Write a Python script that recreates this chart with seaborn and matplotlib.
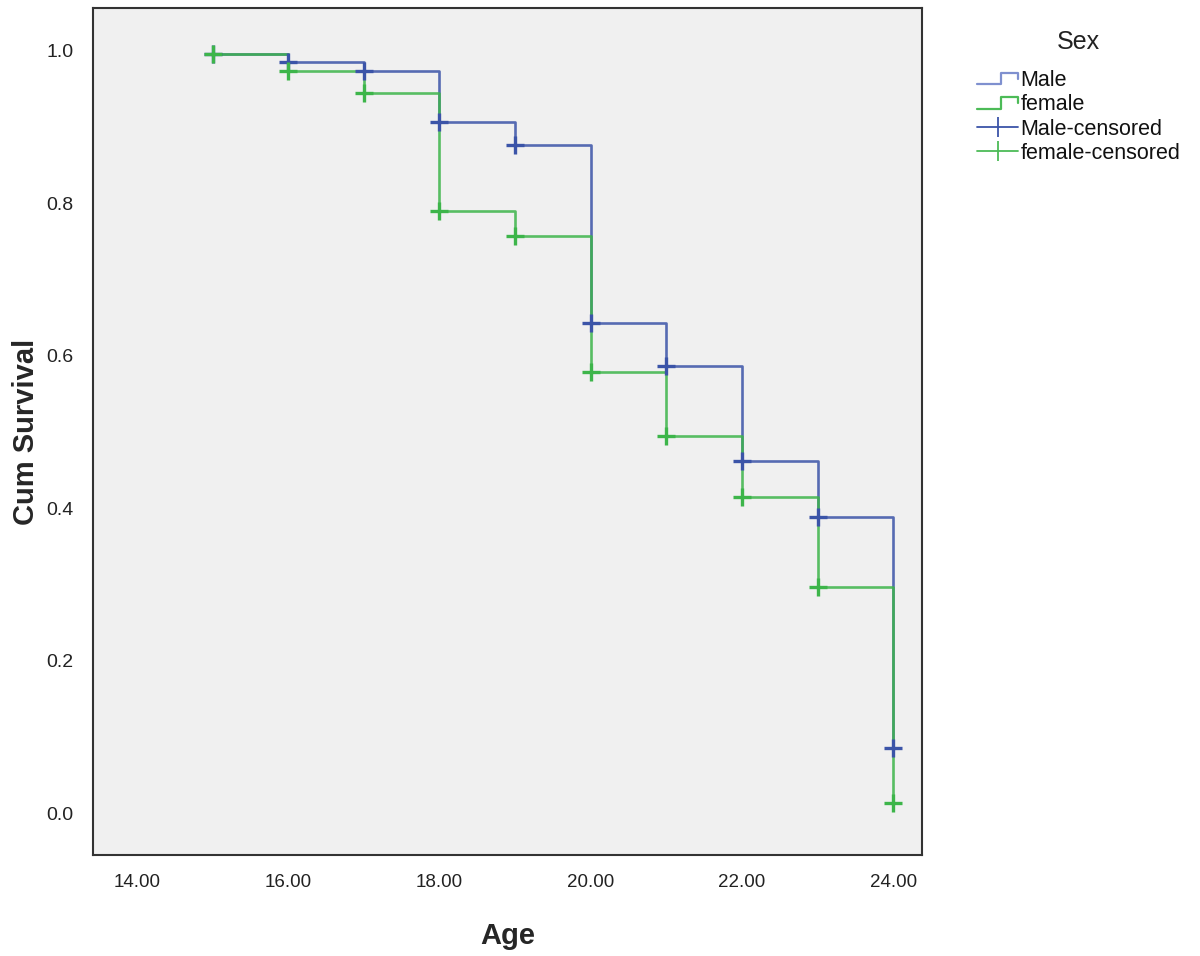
import matplotlib
matplotlib.use("Agg")
import matplotlib.pyplot as plt
from matplotlib.lines import Line2D
from matplotlib.legend_handler import HandlerBase
import seaborn as sns
import pandas as pd

# ---- data ----
ages = [15, 16, 17, 18, 19, 20, 21, 22, 23, 24]
male_surv = [0.996, 0.985, 0.974, 0.906, 0.876, 0.643, 0.587, 0.462, 0.388, 0.085]
female_surv = [0.996, 0.973, 0.944, 0.790, 0.757, 0.579, 0.495, 0.415, 0.297, 0.013]
x_ticks = [14, 16, 18, 20, 22, 24]
y_ticks = [0.0, 0.2, 0.4, 0.6, 0.8, 1.0]
groups = ["Male", "female"]

male_color = "#3b54a8"
female_color = "#3db54a"
male_light = "#7f90cf"
female_light = "#4cbb57"

df = pd.concat([
    pd.DataFrame({"Age": ages, "Surv": male_surv, "Sex": "Male"}),
    pd.DataFrame({"Age": ages, "Surv": female_surv, "Sex": "female"}),
], ignore_index=True)

sns.set_theme(style="white")
plt.rcParams["font.family"] = ["Liberation Sans", "DejaVu Sans"]

fig = plt.figure(figsize=(12, 9.56), dpi=100)
ax = fig.add_axes([93 / 1200, 1 - 855 / 956, (922 - 93) / 1200, (855 - 8) / 956])
ax.set_facecolor("#f0f0f0")

palette = {"Male": male_color, "female": female_color}
for g in groups:
    sub = df[df["Sex"] == g]
    sns.lineplot(data=sub, x="Age", y="Surv", color=palette[g], estimator=None,
                 sort=False, drawstyle="steps-post", linewidth=1.9, alpha=0.85,
                 ax=ax, legend=False)
for g in groups:
    sub = df[df["Sex"] == g]
    sns.scatterplot(data=sub, x="Age", y="Surv", color=palette[g], marker="+",
                    s=170, linewidth=2.4, ax=ax, legend=False, zorder=5)

ax.set_xlim(13.42, 24.38)
ax.set_ylim(-0.055, 1.056)
ax.set_xticks(x_ticks)
ax.set_xticklabels([f"{v:.2f}" for v in x_ticks])
ax.set_yticks(y_ticks)
ax.set_yticklabels([f"{v:.1f}" for v in y_ticks])
ax.tick_params(axis="both", direction="out", length=8, width=1.5, color="#333333",
               labelsize=13.5, labelcolor="#222222", pad=6)
ax.tick_params(axis="y", labelsize=14)
for sp in ax.spines.values():
    sp.set_color("#333333")
    sp.set_linewidth(1.5)

label_font = ["Liberation Sans Narrow", "Liberation Sans", "DejaVu Sans"]
ax.set_xlabel("Age", fontsize=21, fontweight="bold", family=label_font, labelpad=22)
ax.set_ylabel("Cum Survival", fontsize=21, fontweight="bold", family=label_font)
ax.yaxis.set_label_coords(-0.064, 0.5)


class StepHandler(HandlerBase):
    def create_artists(self, legend, orig_handle, xdescent, ydescent, width, height,
                       fontsize, trans):
        x0 = -xdescent
        y0 = -ydescent
        xs = [x0, x0 + 0.58 * width, x0 + 0.58 * width, x0 + width, x0 + width]
        ys = [y0 + 0.1 * height, y0 + 0.1 * height, y0 + 0.85 * height,
              y0 + 0.85 * height, y0 + 0.45 * height]
        ln = Line2D(xs, ys, color=orig_handle.get_color(), linewidth=1.6,
                    transform=trans)
        return [ln]


h_male = Line2D([], [], color=male_light)
h_female = Line2D([], [], color=female_light)
h_male_c = Line2D([], [], color=male_color, marker="|", markersize=14,
                  markeredgewidth=1.3, linewidth=1.3)
h_female_c = Line2D([], [], color=female_light, marker="|", markersize=14,
                    markeredgewidth=1.3, linewidth=1.3)

leg = fig.legend([h_male, h_female, h_male_c, h_female_c],
                 ["Male", "female", "Male-censored", "female-censored"],
                 title="Sex", loc="upper left", bbox_to_anchor=(958 / 1200, 1 - 11 / 956),
                 frameon=False, fontsize=15.5, title_fontsize=18,
                 handlelength=1.9, handletextpad=0.1, labelspacing=0.16,
                 handler_map={h_male: StepHandler(), h_female: StepHandler()})
leg._legend_box.sep = 11
for t in leg.get_texts():
    t.set_color("#111111")
leg.get_title().set_color("#222222")

fig.savefig("out.png", dpi=100, facecolor="white")
